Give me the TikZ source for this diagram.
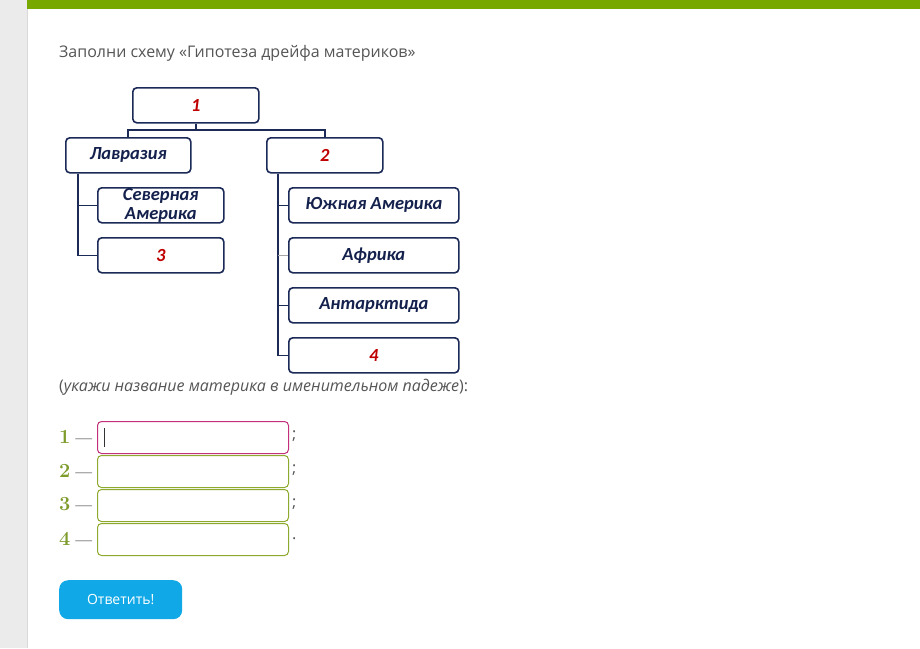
\documentclass[tikz,border=0pt]{standalone}
\usepackage{fontspec}
\setmainfont{Open Sans}
\newfontfamily\diagfont{Carlito}
\newfontfamily\numfont{Latin Modern Roman}
\definecolor{navy}{HTML}{1B2A57}
\definecolor{navytext}{HTML}{14214D}
\definecolor{redn}{HTML}{C00000}
\definecolor{topgreen}{HTML}{77A800}
\definecolor{ansgreen}{HTML}{7E9C2C}
\definecolor{boxgreen}{HTML}{8DAA2E}
\definecolor{magentab}{HTML}{C2307C}
\definecolor{txtgray}{HTML}{555555}
\definecolor{btnblue}{HTML}{10A8E6}
\definecolor{sidegray}{HTML}{EBEBEB}
\tikzset{
  dbox/.style={draw=navy, line width=1.6pt, rounded corners=4pt, inner sep=0pt, anchor=north west, font=\diagfont\bfseries\itshape\fontsize{18.5}{18.5}\selectfont, text=navytext, align=center},
  conn/.style={draw=navy, line width=1.5pt},
  inbox/.style={draw=boxgreen, line width=1pt, rounded corners=4pt, minimum width=191pt, minimum height=32pt, inner sep=0pt, anchor=north west},
  numlab/.style={font=\numfont\bfseries\fontsize{20}{20}\selectfont, text=ansgreen, anchor=west},
  semi/.style={font=\fontsize{16}{16}\selectfont, text=txtgray, anchor=west}
}
\begin{document}
\begin{tikzpicture}[x=1pt,y=-1pt]
\useasboundingbox (0,0) rectangle (920,648);
\fill[white] (0,0) rectangle (920,648);
\fill[sidegray] (0,0) rectangle (27,648);
\draw[black!15, line width=0.6pt] (27,0) -- (27,648);
\fill[topgreen] (27,0) rectangle (920,9);
\node[anchor=west, text=txtgray, font=\fontsize{16}{16}\selectfont, inner sep=0pt] (title) at (59,53) {Заполни схему «Гипотеза дрейфа материков»};
% diagram
\node[dbox, minimum width=126pt, minimum height=35pt] (b1) at (132,87) {\textcolor{redn}{1}};
\node[dbox, minimum width=125pt, minimum height=35pt] (lav) at (65,137) {Лавразия};
\node[dbox, minimum width=116pt, minimum height=35pt] (b2) at (266,137) {\textcolor{redn}{2}};
\node[dbox, minimum width=126pt, minimum height=35pt, font=\diagfont\bfseries\itshape\fontsize{18.5}{19}\selectfont] (sam) at (97,187) {Северная\\Америка};
\node[dbox, minimum width=126pt, minimum height=35pt] (b3) at (97,237) {\textcolor{redn}{3}};
\node[dbox, minimum width=170pt, minimum height=35pt] (yam) at (288,187) {Южная Америка};
\node[dbox, minimum width=170pt, minimum height=35pt] (afr) at (288,237) {Африка};
\node[dbox, minimum width=170pt, minimum height=35pt] (ant) at (288,287) {Антарктида};
\node[dbox, minimum width=170pt, minimum height=35pt] (b4) at (288,337) {\textcolor{redn}{4}};
\coordinate (j) at (b1.south |- 0,130);
\draw[conn] (b1.south) -- (j);
\draw[conn] (lav.north -| 128,0) |- (j) -| (b2.north);
\coordinate (lv) at (78,0);
\draw[conn] (lav.south -| lv) |- (sam.west);
\draw[conn] (lav.south -| lv) |- (b3.west);
\coordinate (rv) at (278,0);
\draw[conn] (b2.south -| rv) |- (yam.west);
\draw[conn] (b2.south -| rv) |- (b4.west);
\draw[conn] (ant.west -| rv) -- (ant.west);
\draw[black!35, line width=0.5pt] (afr.west -| rv) -- (afr.west);
% instruction
\node[anchor=west, inner sep=0pt, text=txtgray, font=\fontsize{16}{16}\selectfont] (instr) at (59,387) {(\textit{укажи название материка в именительном падеже}):};
% answers
\node[inbox, draw=magentab] (i1) at (97,421) {};
\node[inbox] (i2) at (97,455) {};
\node[inbox] (i3) at (97,489) {};
\node[inbox] (i4) at (97,523) {};
\draw[black!80, line width=0.8pt] ([xshift=7pt,yshift=-7pt]i1.north west) -- ([xshift=7pt,yshift=7pt]i1.south west);
\foreach \k in {1,2,3,4} {
  \node[numlab, inner sep=0pt] (n\k) at ([xshift=-38pt,yshift=1pt]i\k.west) {\k\hspace{5pt}\textcolor{black!90}{\fontsize{15}{15}\selectfont —}};
}
\node[semi, inner sep=0pt] (s1) at ([xshift=3pt,yshift=1pt]i1.east) {;};
\node[semi, inner sep=0pt] (s2) at ([xshift=3pt,yshift=1pt]i2.east) {;};
\node[semi, inner sep=0pt] (s3) at ([xshift=3pt,yshift=1pt]i3.east) {;};
\node[semi, inner sep=0pt] (s4) at ([xshift=3pt,yshift=1pt]i4.east) {.};
% button
\node[fill=btnblue, rounded corners=9pt, minimum width=123pt, minimum height=39pt, anchor=north west, inner sep=0pt, text=white, font=\fontsize{14}{14}\selectfont] (btn) at (59,580) {Ответить!};
\end{tikzpicture}
\end{document}
